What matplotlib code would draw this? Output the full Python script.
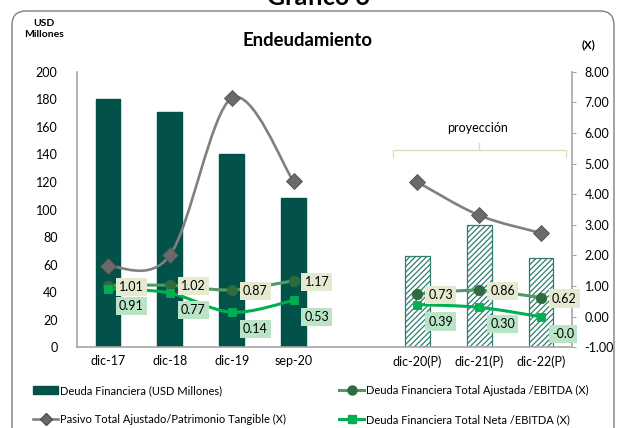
import numpy as np
import matplotlib
matplotlib.use("Agg")
import matplotlib.pyplot as plt
from matplotlib.path import Path
from matplotlib.patches import PathPatch, Patch, FancyBboxPatch
from matplotlib.lines import Line2D

plt.rcParams['font.family'] = ['Lato', 'DejaVu Sans']
plt.rcParams['hatch.linewidth'] = 0.9

# datos
categorias = ['dic-17', 'dic-18', 'dic-19', 'sep-20', '', 'dic-20(P)', 'dic-21(P)', 'dic-22(P)']
deuda = [180, 171, 140, 108, np.nan, 66, 89, 65]
pasivo_patrimonio = [1.65, 2.0, 7.14, 4.42, np.nan, 4.4, 3.31, 2.73]
deuda_ajustada_ebitda = [1.01, 1.02, 0.87, 1.17, np.nan, 0.73, 0.86, 0.62]
deuda_neta_ebitda = [0.91, 0.77, 0.14, 0.53, np.nan, 0.39, 0.30, -0.01]
etiquetas_neta = ['0.91', '0.77', '0.14', '0.53', '', '0.39', '0.30', '-0.0']
proyectado = [False, False, False, False, False, True, True, True]

c_barra = '#02524a'
c_hatch = '#2f7d6f'
c_gris = '#808080'
c_verde_osc = '#4f9a66'
c_verde = '#00b050'


def curva_suave(xs, ys):
    # curva tipo excel (catmull-rom -> bezier)
    verts = [(xs[0], ys[0])]
    codes = [Path.MOVETO]
    n = len(xs)
    for i in range(n - 1):
        p0 = (xs[i - 1], ys[i - 1]) if i > 0 else (xs[i], ys[i])
        p1 = (xs[i], ys[i])
        p2 = (xs[i + 1], ys[i + 1])
        p3 = (xs[i + 2], ys[i + 2]) if i + 2 < n else p2
        c1 = (p1[0] + (p2[0] - p0[0]) / 6, p1[1] + (p2[1] - p0[1]) / 6)
        c2 = (p2[0] - (p3[0] - p1[0]) / 6, p2[1] - (p3[1] - p1[1]) / 6)
        verts += [c1, c2, p2]
        codes += [Path.CURVE4] * 3
    return Path(verts, codes)


def tramos(vals):
    x = np.arange(len(vals))
    v = np.array(vals, dtype=float)
    out = []
    actual = []
    for xi, vi in zip(x, v):
        if np.isnan(vi):
            if actual:
                out.append(actual)
            actual = []
        else:
            actual.append((xi, vi))
    if actual:
        out.append(actual)
    return out


fig = plt.figure(figsize=(6.21, 4.28), dpi=100)

# marco redondeado
marco = FancyBboxPatch((0.12, -0.5), 6.02, 4.67, boxstyle='round,pad=0,rounding_size=0.14',
                       transform=fig.dpi_scale_trans, fc='white', ec='#7f7f7f', lw=1.0, zorder=0)
fig.patches.append(marco)

ax = fig.add_axes([77 / 621, 0.189, 495 / 621, 0.643])
ax.set_zorder(1)
ax2 = ax.twinx()
ax.patch.set_visible(False)

x = np.arange(len(categorias))
for xi, v, p in zip(x, deuda, proyectado):
    if np.isnan(v):
        continue
    if p:
        ax.bar(xi, v, width=0.40, color='white', edgecolor=c_hatch, hatch='//////', lw=0.9)
    else:
        ax.bar(xi, v, width=0.40, color=c_barra, edgecolor=c_barra)

ax.set_xlim(-0.5, len(categorias) - 0.5)
ax.set_ylim(0, 200)
ax.set_yticks(range(0, 201, 20))
ax.set_xticks(x)
ax.set_xticklabels(categorias)
ax.tick_params(axis='x', length=0, pad=6, labelsize=9)
ax.tick_params(axis='y', length=0, pad=14, labelsize=9)
for s in ['top', 'right']:
    ax.spines[s].set_visible(False)
for s in ['left', 'bottom']:
    ax.spines[s].set_color('#a6a6a6')
    ax.spines[s].set_linewidth(1.2)

# lineas en eje derecho
series = [
    (pasivo_patrimonio, c_gris, 'D', '#6a6a6a', 8, 1.9),
    (deuda_ajustada_ebitda, c_verde_osc, 'o', '#2e6b3f', 7.5, 2.2),
    (deuda_neta_ebitda, c_verde, 's', c_verde, 6, 2.2),
]
for vals, col, mk, mcol, ms, lw in series:
    for tr in tramos(vals):
        xs = [t[0] for t in tr]
        ys = [t[1] for t in tr]
        ax2.add_patch(PathPatch(curva_suave(xs, ys), fill=False, ec=col, lw=lw, zorder=3))
        ax2.plot(xs, ys, ls='none', marker=mk, ms=ms, mfc=mcol, mec='#505050' if mk == 'D' else mcol,
                 mew=0.6, zorder=4)

# etiquetas de datos
for xi, v in zip(x, deuda_ajustada_ebitda):
    if np.isnan(v):
        continue
    ax2.annotate(f'{v:.2f}', (xi, v), xytext=(11, -1), textcoords='offset pixels',
                 ha='left', va='center', fontsize=9,
                 bbox=dict(boxstyle='square,pad=0.25', fc='#e3ead0', ec='none'), zorder=5)
for xi, v, t in zip(x, deuda_neta_ebitda, etiquetas_neta):
    if np.isnan(v):
        continue
    ax2.annotate(t, (xi, v), xytext=(11, -17), textcoords='offset pixels',
                 ha='left', va='center', fontsize=9,
                 bbox=dict(boxstyle='square,pad=0.25', fc='#b9e5c6', ec='none'), zorder=5)

ax2.set_ylim(-1, 8)
ax2.set_yticks(np.arange(-1, 8.01, 1))
ax2.set_yticklabels([f'{t:.2f}' for t in np.arange(-1, 8.01, 1)])
ax2.tick_params(axis='y', length=3, direction='out', color='#a6a6a6', pad=6, labelsize=9)
for s in ['top', 'left', 'bottom']:
    ax2.spines[s].set_visible(False)
ax2.spines['right'].set_color('#a6a6a6')
ax2.spines['right'].set_linewidth(1.2)

# llave de proyeccion
c_llave = '#d4e2b8'
ax2.plot([4.6, 4.6, 7.4, 7.4], [5.21, 5.44, 5.44, 5.21], color=c_llave, lw=1, zorder=2)
ax2.plot([6.0, 6.0], [5.44, 5.67], color=c_llave, lw=1, zorder=2)
ax2.text(5.98, 6.16, 'proyección', ha='center', va='center', fontsize=9)

# textos
fig.text(318 / 621, 1 - 5 / 428, 'Gráfico 6', ha='center', va='baseline', fontsize=18, fontweight='bold')
fig.text(307 / 621, 1 - 40 / 428, 'Endeudamiento', ha='center', va='center', fontsize=13.3, fontweight='bold')
fig.text(44 / 621, 1 - 29 / 428, 'USD\nMillones', ha='center', va='center', fontsize=7.5,
         fontweight='bold', linespacing=1.3)
fig.text(589 / 621, 1 - 45 / 428, '(X)', ha='center', va='center', fontsize=8, fontweight='bold')

# leyenda
handles = [
    Patch(fc=c_barra, ec=c_barra),
    Line2D([], [], color=c_gris, lw=1.9, marker='D', ms=6.5, mfc='#6a6a6a', mec='#505050'),
    Line2D([], [], color=c_verde_osc, lw=2.2, marker='o', ms=6.5, mfc='#2e6b3f', mec='#2e6b3f'),
    Line2D([], [], color=c_verde, lw=2.2, marker='s', ms=5.5, mfc=c_verde, mec=c_verde),
]
labels = ['Deuda Financiera (USD Millones)',
          'Pasivo Total Ajustado/Patrimonio Tangible (X)',
          'Deuda Financiera Total Ajustada /EBITDA (X)',
          'Deuda Financiera Total Neta /EBITDA (X)']
fig.legend(handles, labels, ncol=2, loc='upper left', bbox_to_anchor=(33 / 621, 1 - 385 / 428),
           frameon=False, fontsize=8, handlelength=2.25, handletextpad=0.15, labelspacing=1.6,
           columnspacing=4.8, borderaxespad=0, borderpad=0)

fig.savefig('out.png', dpi=100)
